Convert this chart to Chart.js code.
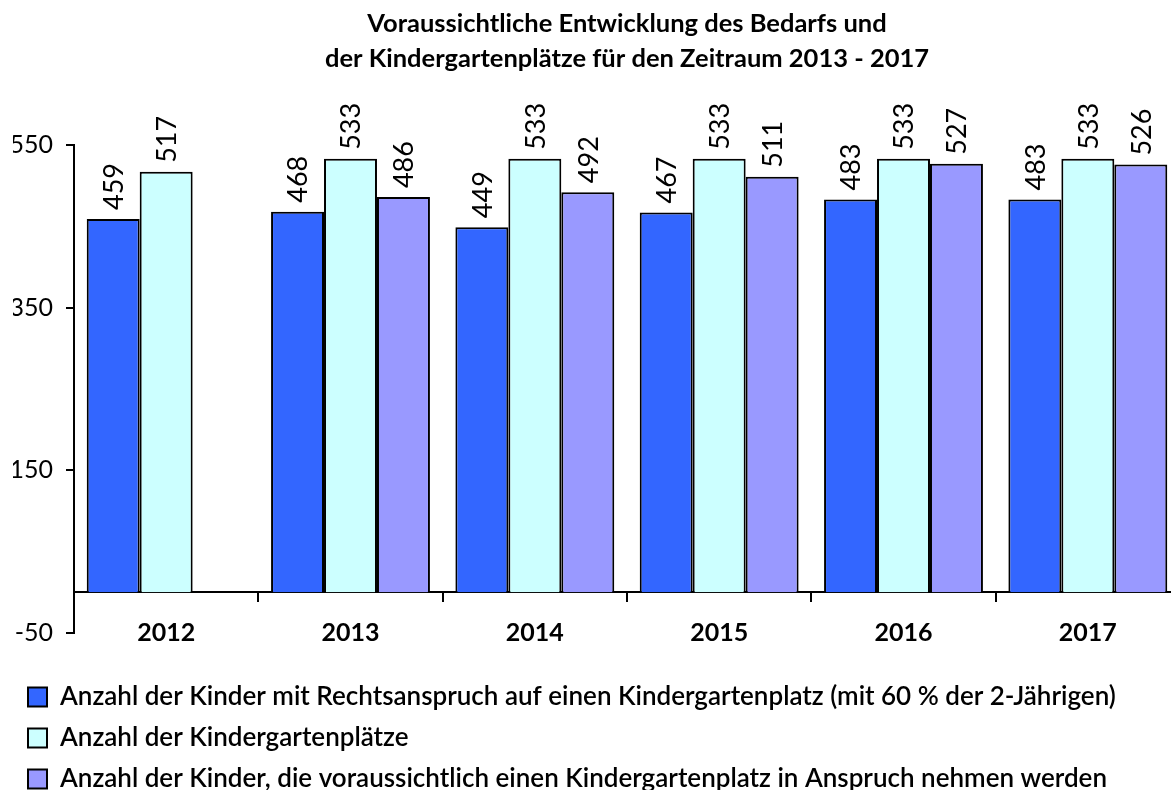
<!DOCTYPE html>
<html lang="de">
<head>
<meta charset="utf-8">
<title>Kindergartenplätze 2013 - 2017</title>
<script src="https://cdn.jsdelivr.net/npm/chart.js@4/dist/chart.umd.min.js"></script>
<style>
    html, body { margin: 0; padding: 0; background: #fff; overflow: hidden; }
    #chartBox { position: relative; width: 1182px; height: 802px; }
</style>
</head>
<body>
<div id="chartBox"><canvas id="kigaChart"></canvas></div>
<script>
// Data
const years = ['2012', '2013', '2014', '2015', '2016', '2017'];
const kinderRechtsanspruch = [459, 468, 449, 467, 483, 483];
const kindergartenPlaetze = [517, 533, 533, 533, 533, 533];
const kinderInAnspruch = [null, 486, 492, 511, 527, 526];
const yTicks = [-50, 150, 350, 550];

const seriesNames = [
    'Anzahl der Kinder mit Rechtsanspruch auf einen Kindergartenplatz (mit 60 % der 2-Jährigen)',
    'Anzahl der Kindergartenplätze',
    'Anzahl der Kinder, die voraussichtlich einen Kindergartenplatz in Anspruch nehmen werden'
];

const FONT = 'Lato, "Open Sans", "Noto Sans", sans-serif';

// draws the rotated values above every bar
const valueLabels = {
    id: 'valueLabels',
    afterDatasetsDraw(chart) {
        const ctx = chart.ctx;
        ctx.save();
        ctx.font = '27px ' + FONT;
        ctx.fillStyle = '#000';
        ctx.textAlign = 'left';
        ctx.textBaseline = 'middle';
        chart.data.datasets.forEach((ds, i) => {
            chart.getDatasetMeta(i).data.forEach((bar, j) => {
                const v = ds.data[j];
                if (v === null) return;
                ctx.save();
                ctx.translate(bar.x + 1, bar.y - 9);
                ctx.rotate(-Math.PI / 2);
                ctx.fillText(String(v), 0, 0);
                ctx.restore();
            });
        });
        ctx.restore();
    }
};

function renderKigaChart() {
    const canvas = document.getElementById('kigaChart');
    if (!canvas) return;

    const barStyle = { borderColor: '#000', borderWidth: 2, categoryPercentage: 0.862, barPercentage: 1.0 };

    new Chart(canvas.getContext('2d'), {
        type: 'bar',
        data: {
            labels: years,
            datasets: [
                { label: seriesNames[0], data: kinderRechtsanspruch, backgroundColor: '#3366FF', ...barStyle },
                { label: seriesNames[1], data: kindergartenPlaetze, backgroundColor: '#CCFFFF', ...barStyle },
                { label: seriesNames[2], data: kinderInAnspruch, backgroundColor: '#9999FF', ...barStyle }
            ]
        },
        plugins: [valueLabels],
        options: {
            responsive: true,
            maintainAspectRatio: false,
            animation: false,
            layout: { padding: { left: 13, right: 2, top: 0, bottom: 0 } },
            plugins: {
                tooltip: { enabled: false },
                title: {
                    display: true,
                    fullSize: false,
                    text: ['Voraussichtliche Entwicklung des Bedarfs und',
                           'der Kindergartenplätze für den Zeitraum 2013 - 2017'],
                    color: '#000',
                    font: { family: FONT, size: 25.5, weight: 'bold', lineHeight: 1.373 },
                    padding: { top: 6, bottom: 69 }
                },
                legend: {
                    position: 'bottom',
                    align: 'start',
                    // empty title only keeps a gap between the plot and the legend rows
                    title: { display: true, text: '', font: { size: 12, lineHeight: 1 }, padding: { top: 0, bottom: 24 } },
                    labels: {
                        color: '#000',
                        boxWidth: 19,
                        boxHeight: 19,
                        padding: 15,
                        font: { family: FONT, size: 26, weight: '600' }
                    }
                }
            },
            scales: {
                x: {
                    position: { y: 0 },
                    border: { color: '#000', width: 2 },
                    grid: { drawOnChartArea: false, drawTicks: true, tickLength: 9, color: '#000', lineWidth: 2 },
                    ticks: {
                        color: '#000',
                        padding: 17,
                        font: { family: FONT, size: 25, weight: 'bold' }
                    }
                },
                y: {
                    min: -50,
                    max: 550,
                    afterFit: scale => { scale.width = 61; },
                    afterBuildTicks: scale => { scale.ticks = yTicks.map(v => ({ value: v })); },
                    border: { color: '#000', width: 2 },
                    grid: { drawOnChartArea: false, drawTicks: true, tickLength: 8, color: '#000', lineWidth: 2 },
                    ticks: {
                        color: '#000',
                        padding: 13,
                        font: { family: FONT, size: 25 }
                    }
                }
            }
        }
    });
}

document.addEventListener('DOMContentLoaded', renderKigaChart);
</script>
</body>
</html>
